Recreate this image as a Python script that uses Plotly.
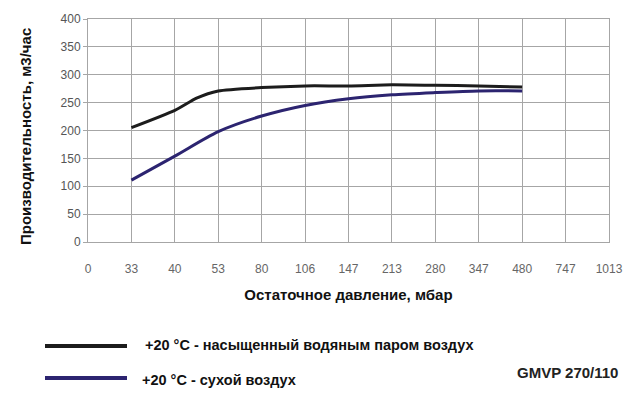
import plotly.graph_objects as go

pressure_labels = ["0", "33", "40", "53", "80", "106", "147", "213", "280", "347", "480", "747", "1013"]
saturated_x = [1, 2, 2.5, 3, 4, 5, 6, 7, 8, 9, 10]
saturated_y = [205, 236, 258, 271, 277, 280, 280, 282, 281, 280, 278]
dry_x = [1, 2, 3, 4, 5, 6, 7, 8, 9, 10]
dry_y = [111, 154, 198, 226, 245, 257, 264, 268, 271, 271]
y_ticks = [0, 50, 100, 150, 200, 250, 300, 350, 400]

black = "#1c1c1c"
navy = "#2c2470"
grid = "#a6a6a6"

fig = go.Figure()
fig.add_trace(go.Scatter(x=saturated_x, y=saturated_y, mode="lines",
                         line=dict(color=black, width=3, shape="spline", smoothing=0.6),
                         showlegend=False))
fig.add_trace(go.Scatter(x=dry_x, y=dry_y, mode="lines",
                         line=dict(color=navy, width=3, shape="spline", smoothing=0.8),
                         showlegend=False))

fig.update_layout(
    width=638, height=399,
    margin=dict(l=88, r=29, t=19, b=157),
    paper_bgcolor="white", plot_bgcolor="white",
    font=dict(family="Liberation Sans, Arial", color="#000"),
)
fig.update_xaxes(
    range=[0, 12], tickmode="array", tickvals=list(range(len(pressure_labels))),
    ticktext=pressure_labels, showgrid=True, gridcolor=grid, gridwidth=1,
    showline=True, linecolor=grid, mirror=True, zeroline=False,
    ticks="", ticklabelstandoff=16,
    tickfont=dict(size=12, color="#666"),
    title=dict(text="<b>Остаточное давление, мбар</b>", font=dict(size=15, color="#111"), standoff=14),
)
fig.update_yaxes(
    range=[0, 400], tickmode="array", tickvals=y_ticks,
    showgrid=True, gridcolor=grid, gridwidth=1,
    showline=True, linecolor=grid, mirror=True, zeroline=False,
    ticks="outside", ticklen=4, tickcolor=grid,
    tickfont=dict(size=12, color="#555"),
)

plot_h = 399 - 19 - 157
def py(p):
    return (242 - p) / plot_h
def px(p):
    return (p - 88) / 521

# y-axis title
fig.add_annotation(xref="paper", yref="paper", x=px(25), y=py(137),
                   text="<b>Производительность, м3/час</b>", textangle=-90, showarrow=False,
                   xanchor="center", yanchor="middle", font=dict(size=15, color="#111"))

# custom legend
legend_items = [("+20 °C - насыщенный водяным паром воздух", black, 346, 345, 143),
                ("+20 °C - сухой воздух", navy, 378, 380, 140)]
for text, color, ly, ty, tx in legend_items:
    fig.add_shape(type="line", xref="paper", yref="paper",
                  x0=px(45), x1=px(127), y0=py(ly), y1=py(ly),
                  line=dict(color=color, width=4))
    fig.add_annotation(xref="paper", yref="paper", x=px(tx), y=py(ty),
                       text=f"<b>{text}</b>", showarrow=False, xanchor="left", yanchor="middle",
                       font=dict(size=14.5, color="#111"))
fig.add_annotation(xref="paper", yref="paper", x=px(620), y=py(372),
                   text="<b>GMVP 270/110</b>", showarrow=False, xanchor="right", yanchor="middle",
                   font=dict(size=15, color="#222"))

fig.write_html("out.html")
